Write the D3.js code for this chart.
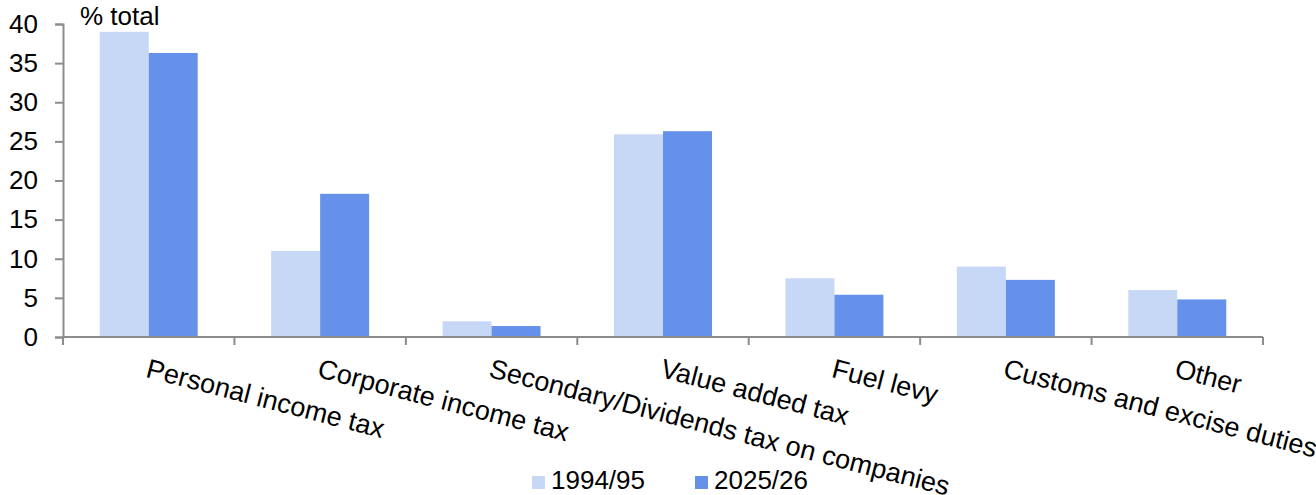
<!DOCTYPE html>
<html>
<head>
<meta charset="utf-8">
<script src="https://cdn.jsdelivr.net/npm/d3@7"></script>
<style>
  html, body { margin: 0; padding: 0; background: #fff; }
  svg { display: block; font-family: Arial, "Liberation Sans", sans-serif; }
</style>
</head>
<body>
<svg id="chart" width="1316" height="495"></svg>
<script>
// Share of total tax revenue by tax type
const categories = [
  "Personal income tax",
  "Corporate income tax",
  "Secondary/Dividends tax on companies",
  "Value added tax",
  "Fuel levy",
  "Customs and excise duties",
  "Other"
];
const seriesNames = ["1994/95", "2025/26"];
const values1994 = [39.0, 11.0, 2.0, 25.9, 7.5, 9.0, 6.0];
const values2025 = [36.3, 18.3, 1.4, 26.3, 5.4, 7.3, 4.8];
const yTicks = [0, 5, 10, 15, 20, 25, 30, 35, 40];
const colors = ["#c7d7f6", "#6591eb"];

const svg = d3.select("#chart");
const plotLeft = 63, plotRight = 1263, plotTop = 24, plotBottom = 337;
const fontSize = 26;
const catFontSize = 27;

const x = d3.scaleBand().domain(categories).range([plotLeft, plotRight]).paddingInner(0).paddingOuter(0);
const inner = d3.scaleBand().domain(seriesNames).range([0, x.bandwidth()]).paddingInner(0).paddingOuter(0.75);
const y = d3.scaleLinear().domain([0, 40]).range([plotBottom, plotTop]);

const rows = categories.map((c, i) => ({ cat: c, vals: [values1994[i], values2025[i]] }));

// bars
const groups = svg.append("g").selectAll("g").data(rows).join("g")
  .attr("transform", d => `translate(${x(d.cat)},0)`);
groups.selectAll("rect")
  .data(d => d.vals.map((v, j) => ({ s: seriesNames[j], v, j })))
  .join("rect")
  .attr("x", d => inner(d.s))
  .attr("y", d => y(d.v))
  .attr("width", inner.bandwidth())
  .attr("height", d => plotBottom - y(d.v))
  .attr("fill", d => colors[d.j]);

// y axis
const yAxis = svg.append("g").attr("transform", `translate(${plotLeft},0)`)
  .call(d3.axisLeft(y).tickValues(yTicks).tickSize(8).tickPadding(17).tickFormat(d3.format("d")));
yAxis.select(".domain").attr("stroke", "#8c8c8c").attr("stroke-width", 2);
yAxis.selectAll(".tick line").attr("stroke", "#8c8c8c").attr("stroke-width", 2);
yAxis.selectAll(".tick text").attr("font-size", fontSize).attr("fill", "#000")
  .attr("font-family", "Arial, 'Liberation Sans', sans-serif");

// x axis line with boundary ticks between categories
const xAxisG = svg.append("g");
xAxisG.append("line")
  .attr("x1", plotLeft).attr("x2", plotRight).attr("y1", plotBottom).attr("y2", plotBottom)
  .attr("stroke", "#8c8c8c").attr("stroke-width", 2);
const boundaries = categories.map(c => x(c)).concat([x(categories[categories.length - 1]) + x.bandwidth()]);
xAxisG.selectAll("line.b").data(boundaries).join("line").attr("class", "b")
  .attr("x1", d => d).attr("x2", d => d).attr("y1", plotBottom).attr("y2", plotBottom + 8)
  .attr("stroke", "#8c8c8c").attr("stroke-width", 2);

// rotated category labels
svg.append("g").selectAll("text").data(categories).join("text")
  .attr("transform", d => `translate(${x(d) + x.bandwidth() / 2 + 1},${plotBottom + 21}) rotate(14.5)`)
  .attr("dy", "0.72em")
  .attr("font-size", catFontSize)
  .attr("fill", "#000")
  .text(d => d);

// unit label
svg.append("text").attr("x", 80).attr("y", 25)
  .attr("font-size", fontSize).attr("fill", "#000").text("% total");

// legend
const legendX = [532, 695];
const legend = svg.append("g").selectAll("g").data(seriesNames).join("g")
  .attr("transform", (d, i) => `translate(${legendX[i]},476)`);
legend.append("rect").attr("width", 13).attr("height", 13).attr("fill", (d, i) => colors[i]);
legend.append("text").attr("x", 19).attr("y", 13)
  .attr("font-size", fontSize).attr("fill", "#000").text(d => d);
</script>
</body>
</html>
